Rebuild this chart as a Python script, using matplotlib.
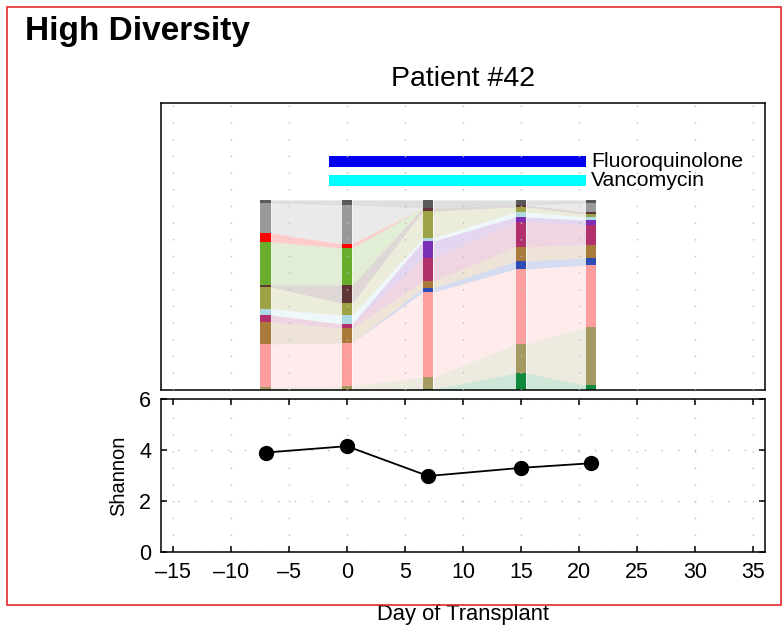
import numpy as np
import matplotlib
matplotlib.use('Agg')
import matplotlib.pyplot as plt
from matplotlib.patches import Rectangle

plt.rcParams['font.family'] = ['Liberation Sans', 'DejaVu Sans']

# sample days and Shannon diversity
days = [-7, 0, 7, 15, 21]
shannon = [3.9, 4.15, 2.98, 3.3, 3.48]

# taxa colours, bottom to top of each stacked bar
taxa_colors = ['#0e8a3c', '#a59a62', '#ff9e9e', '#2e4cb8', '#a87b3a', '#b2306c', '#7a2fb5',
               '#aed8e2', '#9da344', '#5f3536', '#69ad2d', '#ff0000', '#999999', '#5a5a5a']

# relative abundance (%) per sample, same order as taxa_colors
day_m7 = [0, 1.6, 22.6, 0, 11.6, 3.7, 0, 3.2, 11.6, 1.1, 22.6, 4.7, 15.8, 1.6]
day_0 = [0, 2.1, 22.6, 0, 7.9, 2.1, 0, 4.7, 6.3, 9.5, 19.5, 2.1, 20.5, 2.6]
day_7 = [0.5, 6.3, 44.7, 2.1, 3.7, 12.1, 8.9, 1.6, 14.2, 1.6, 0, 0, 0, 4.2]
day_15 = [8.9, 15.3, 39.5, 4.2, 7.4, 13.2, 2.6, 2.6, 2.6, 1.1, 0, 0, 0, 2.6]
day_21 = [2.6, 30.5, 32.6, 3.7, 6.8, 10.5, 2.6, 1.6, 1.6, 1.1, 0, 0, 4.7, 1.6]

# antibiotic exposure
ab_names = ['Fluoroquinolone', 'Vancomycin']
ab_start = [-1.5, -1.5]
ab_end = [20.6, 20.6]
ab_colors = ['#0000ee', '#00ffff']

W, H = 783, 626
fig = plt.figure(figsize=(W / 100, H / 100), dpi=100)

def fx(px):
    return px / W

def fy(px):
    return 1 - px / H

ax1 = fig.add_axes([fx(161), fy(390), fx(765) - fx(161), fy(103) - fy(390)])
ax2 = fig.add_axes([fx(161), fy(552), fx(765) - fx(161), fy(399) - fy(552)])

grid_kw = dict(color='#bdbdbd', linewidth=1.0, linestyle=(0, (1, 11)))

# stacked composition bars
comp = np.array([day_m7, day_0, day_7, day_15, day_21], dtype=float).T
comp = comp / comp.sum(axis=0)
tops = np.cumsum(comp, axis=0)
bots = tops - comp
w = 0.9
for k, c in enumerate(taxa_colors):
    ax1.bar(days, comp[k], width=w, bottom=bots[k], color=c, linewidth=0, zorder=2)
    for i in range(len(days) - 1):
        xs = [days[i] + w / 2, days[i + 1] - w / 2]
        ax1.fill_between(xs, [bots[k, i], bots[k, i + 1]], [tops[k, i], tops[k, i + 1]],
                         color=c, alpha=0.2, linewidth=0, zorder=1)

# antibiotic bars
ab_y = [1.203, 1.103]
for name, s, e, c, y in zip(ab_names, ab_start, ab_end, ab_colors, ab_y):
    ax1.barh(y, e - s, left=s, height=0.058, color=c, linewidth=0, zorder=2)
    ax1.text(e + 0.4, y, name, fontsize=15.3, va='center', ha='left', zorder=4)

ax1.set_xlim(-16, 36)
ax1.set_ylim(0, 1.51)
ax1.set_xticks(np.arange(-15, 40, 5))
ax1.xaxis.grid(True, **grid_kw)
ax1.set_axisbelow(False)
ax1.tick_params(length=0, labelbottom=False, labelleft=False)
ax1.set_yticks([])
ax1.set_title('Patient #42', fontsize=20.5, pad=12)

# Shannon diversity
ax2.plot(days, shannon, color='black', linewidth=1.3, marker='o', markersize=10, zorder=3)
ax2.set_xlim(-16, 36)
ax2.set_ylim(0, 6)
ax2.set_xticks(np.arange(-15, 40, 5))
ax2.set_xticklabels([str(v).replace('-', '\u2013') for v in range(-15, 40, 5)])
ax2.set_yticks([0, 2, 4, 6])
ax2.grid(True, **grid_kw)
ax2.tick_params(direction='in', length=4, width=1.1, labelsize=15.5, pad=7,
                top=True, right=True)
ax2.set_ylabel('Shannon', fontsize=14.5)
ax2.yaxis.set_label_coords(-0.055, 0.5)
ax2.set_xlabel('Day of Transplant', fontsize=15.8)
ax2.xaxis.set_label_coords(0.5, -0.34)

for a in (ax1, ax2):
    for sp in a.spines.values():
        sp.set_linewidth(1.1)

fig.text(fx(25), fy(40), 'High Diversity', fontsize=24, fontweight='bold', va='baseline')
fig.add_artist(Rectangle((fx(7), fy(605)), fx(781) - fx(7), fy(7) - fy(605),
                         transform=fig.transFigure, fill=False, edgecolor='#e3262c', linewidth=1.2))

fig.savefig('out.png', dpi=100)
